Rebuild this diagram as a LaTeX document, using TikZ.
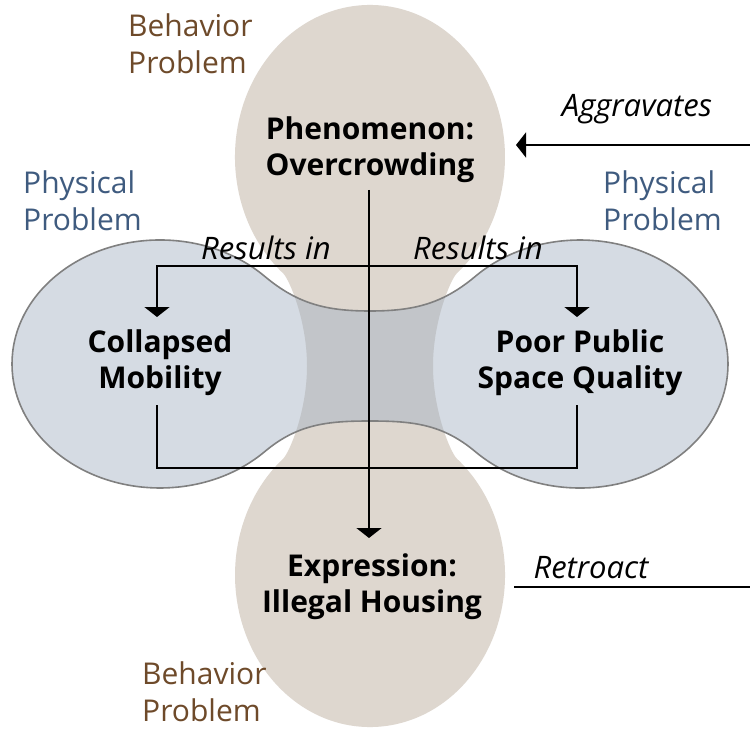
\documentclass[tikz,border=0pt]{standalone}
\usepackage{fontspec}
\setmainfont{Open Sans}
\usetikzlibrary{arrows.meta}
\definecolor{beige}{HTML}{DED7CF}
\definecolor{bluegray}{HTML}{D5DBE3}
\definecolor{overlap}{HTML}{C2C5C9}
\definecolor{outlinegray}{HTML}{808080}
\definecolor{behav}{HTML}{6E4A2A}
\definecolor{phys}{HTML}{3F5B7F}
\def\beigeshape{(283.2,-273.4) arc[start angle=230, end angle=-50, x radius=135, y radius=152]
 .. controls (451,-278.9) and (433,-320) .. (433,-366)
 .. controls (433,-412) and (451,-453.1) .. (456.8,-458.6)
 arc[start angle=50, end angle=-230, x radius=135, y radius=152]
 .. controls (289,-453.1) and (307,-412) .. (307,-366)
 .. controls (307,-320) and (289,-278.9) .. (283.2,-273.4) -- cycle}
\def\blueshape{(370,-311) to[out=180,in=-40] (264.65,-276.3)
 arc[start angle=45, end angle=315, x radius=148, y radius=124]
 to[out=40,in=180] (370,-421)
 to[out=0,in=140] (475.35,-451.7)
 arc[start angle=225, end angle=495, x radius=148, y radius=124]
 to[out=220,in=0] (370,-311) -- cycle}
\begin{document}
\begin{tikzpicture}[x=1pt,y=1pt,
  conn/.style={line width=2pt, black},
  arr/.style={conn, -{Triangle[width=25pt,length=10pt]}},
  mainlbl/.style={font=\bfseries\fontsize{30}{36}\selectfont, align=center, inner sep=0pt},
  edgelbl/.style={font=\itshape\fontsize{31}{36}\selectfont, inner sep=0pt, anchor=base},
  behlbl/.style={font=\fontsize{30}{37}\selectfont, text=behav, align=left, inner sep=0pt, anchor=north west},
  phylbl/.style={font=\fontsize{30}{37}\selectfont, text=phys, align=left, inner sep=0pt, anchor=north west}
]
\useasboundingbox (0,0) rectangle (750,-730);
\fill[white] (0,0) rectangle (750,-730);
% shapes
\fill[beige] \beigeshape;
\fill[bluegray] \blueshape;
\begin{scope}
  \clip \beigeshape;
  \fill[overlap] \blueshape;
\end{scope}
\draw[outlinegray, line width=1.6pt] \blueshape;
% main nodes
\node[mainlbl] (top) at (370,-150) {Phenomenon:\\Overcrowding};
\node[mainlbl] (left) at (160,-363) {Collapsed\\Mobility};
\node[mainlbl] (right) at (580,-363) {Poor Public\\Space Quality};
\node[mainlbl] (bottom) at (372,-587) {Expression:\\Illegal Housing};
% category labels
\node[behlbl] (behtop) at (128,-14) {Behavior\\Problem};
\node[phylbl] (phyleft) at (23,-171) {Physical\\Problem};
\node[phylbl] (phyright) at (603,-171) {Physical\\Problem};
\node[behlbl] (behbot) at (142,-662) {Behavior\\Problem};
% coordinates
\coordinate (vstart) at (369,-190);
\coordinate (vend) at (369,-538);
\coordinate (split) at (369,-266);
\coordinate (lin) at (157,-317);
\coordinate (rin) at (577,-317);
\coordinate (lout) at (157,-405);
\coordinate (rout) at (577,-405);
\coordinate (bjoin) at (369,-468);
\coordinate (aggsrc) at (750,-145);
\coordinate (aggtip) at (516,-145);
\coordinate (retsrc) at (514,-587);
\coordinate (retend) at (750,-587);
% connectors
\draw[arr] (vstart) -- (vend);
\draw[arr] (split) -| (lin);
\draw[arr] (split) -| (rin);
\draw[conn] (lout) |- (bjoin) -| (rout);
\draw[arr] (aggsrc) -- (aggtip);
\draw[conn] (retsrc) -- (retend);
% edge labels
\node[edgelbl] (agg) at (637,-117) {Aggravates};
\node[edgelbl] (ret) at (591,-578) {Retroact};
\node[edgelbl] (resl) at (266,-260) {Results in};
\node[edgelbl] (resr) at (478,-260) {Results in};
\end{tikzpicture}
\end{document}
